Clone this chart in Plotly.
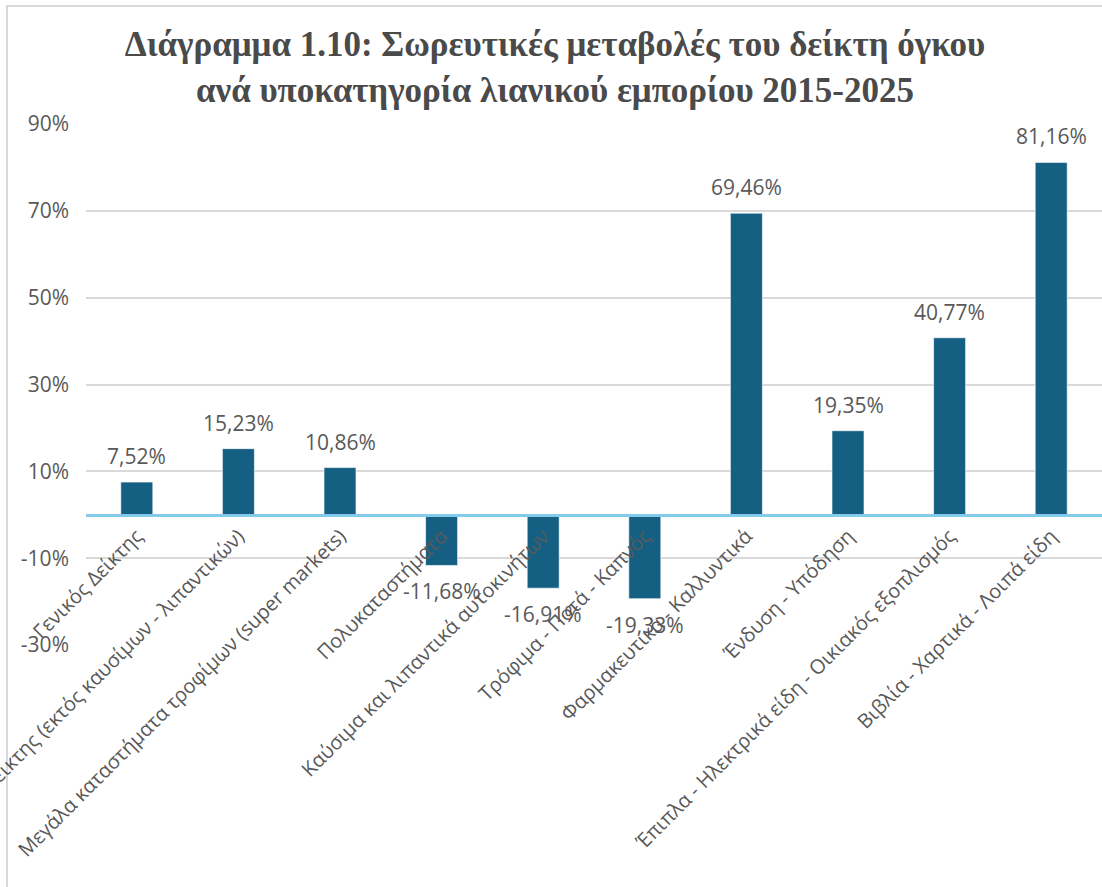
import plotly.graph_objects as go

categories = [
    "Γενικός Δείκτης",
    "Γενικός Δείκτης (εκτός καυσίμων - λιπαντικών)",
    "Μεγάλα καταστήματα τροφίμων (super markets)",
    "Πολυκαταστήματα",
    "Καύσιμα και λιπαντικά αυτοκινήτων",
    "Τρόφιμα - Ποτά - Καπνός",
    "Φαρμακευτικά - Καλλυντικά",
    "Ένδυση - Υπόδηση",
    "Έπιπλα - Ηλεκτρικά είδη - Οικιακός εξοπλισμός",
    "Βιβλία - Χαρτικά - Λοιπά είδη",
]
values = [7.52, 15.23, 10.86, -11.68, -16.91, -19.33, 69.46, 19.35, 40.77, 81.16]
y_tickvals = [-30, -10, 10, 30, 50, 70, 90]
y_ticktext = ["-30%", "-10%", "10%", "30%", "50%", "70%", "90%"]
title_lines = [
    "Διάγραμμα 1.10: Σωρευτικές μεταβολές του δείκτη όγκου",
    "ανά υποκατηγορία λιανικού εμπορίου 2015-2025",
]

W, H = 1102, 887
ML, MR, MT, MB = 86, 0, 124, 242
YMIN, YMAX = -30, 90

TEXT = "#595959"
FONT = "Open Sans"

fig = go.Figure()
fig.add_trace(go.Bar(
    x=categories, y=values, width=0.315,
    marker=dict(color="#156082", line=dict(color="#ffffff", width=0.6)),
    hoverinfo="skip",
))

labels = [f"{v:.2f}".replace(".", ",") + "%" for v in values]
for c, v, t in zip(categories, values, labels):
    fig.add_annotation(
        x=c, y=v, text=t, showarrow=False,
        xref="x", yref="y",
        yanchor="bottom" if v >= 0 else "top",
        yshift=10 if v >= 0 else -10,
        font=dict(family=FONT, size=21, color=TEXT),
    )

pw = W - ML - MR
ph = H - MT - MB
def px_x(p):
    return (p - ML) / pw
def px_y(p):
    return (H - MB - p) / ph

fig.add_shape(type="rect", xref="paper", yref="paper",
              x0=px_x(7), x1=px_x(1120), y0=px_y(900), y1=px_y(6),
              line=dict(color="#D9D9D9", width=2), fillcolor="rgba(0,0,0,0)",
              layer="below")

fig.update_layout(
    width=W, height=H,
    margin=dict(l=ML, r=MR, t=MT, b=MB, autoexpand=False),
    paper_bgcolor="white", plot_bgcolor="white",
    showlegend=False,
    title=dict(
        text="<b>" + title_lines[0] + "<br>" + title_lines[1] + "</b>",
        x=555 / W, xref="container", xanchor="center",
        y=1 - 56 / H, yref="container", yanchor="middle",
        font=dict(family="Liberation Serif", size=35, color="#4a4a4a"),
    ),
    xaxis=dict(
        anchor="free", position=(0 - YMIN) / (YMAX - YMIN),
        showline=True, linecolor="#83CAEB", linewidth=2.5,
        showgrid=False, zeroline=False, automargin=False,
        tickangle=-45, ticks="",
        tickfont=dict(family=FONT, size=20, color=TEXT),
        layer="above traces",
    ),
    yaxis=dict(
        range=[YMIN, YMAX], tickvals=y_tickvals, ticktext=y_ticktext,
        showgrid=True, gridcolor="#D9D9D9", gridwidth=1.5,
        zeroline=False, showline=False, ticks="", automargin=False,
        ticklabelstandoff=16,
        tickfont=dict(family=FONT, size=21, color=TEXT),
    ),
)

fig.write_html("out.html")
